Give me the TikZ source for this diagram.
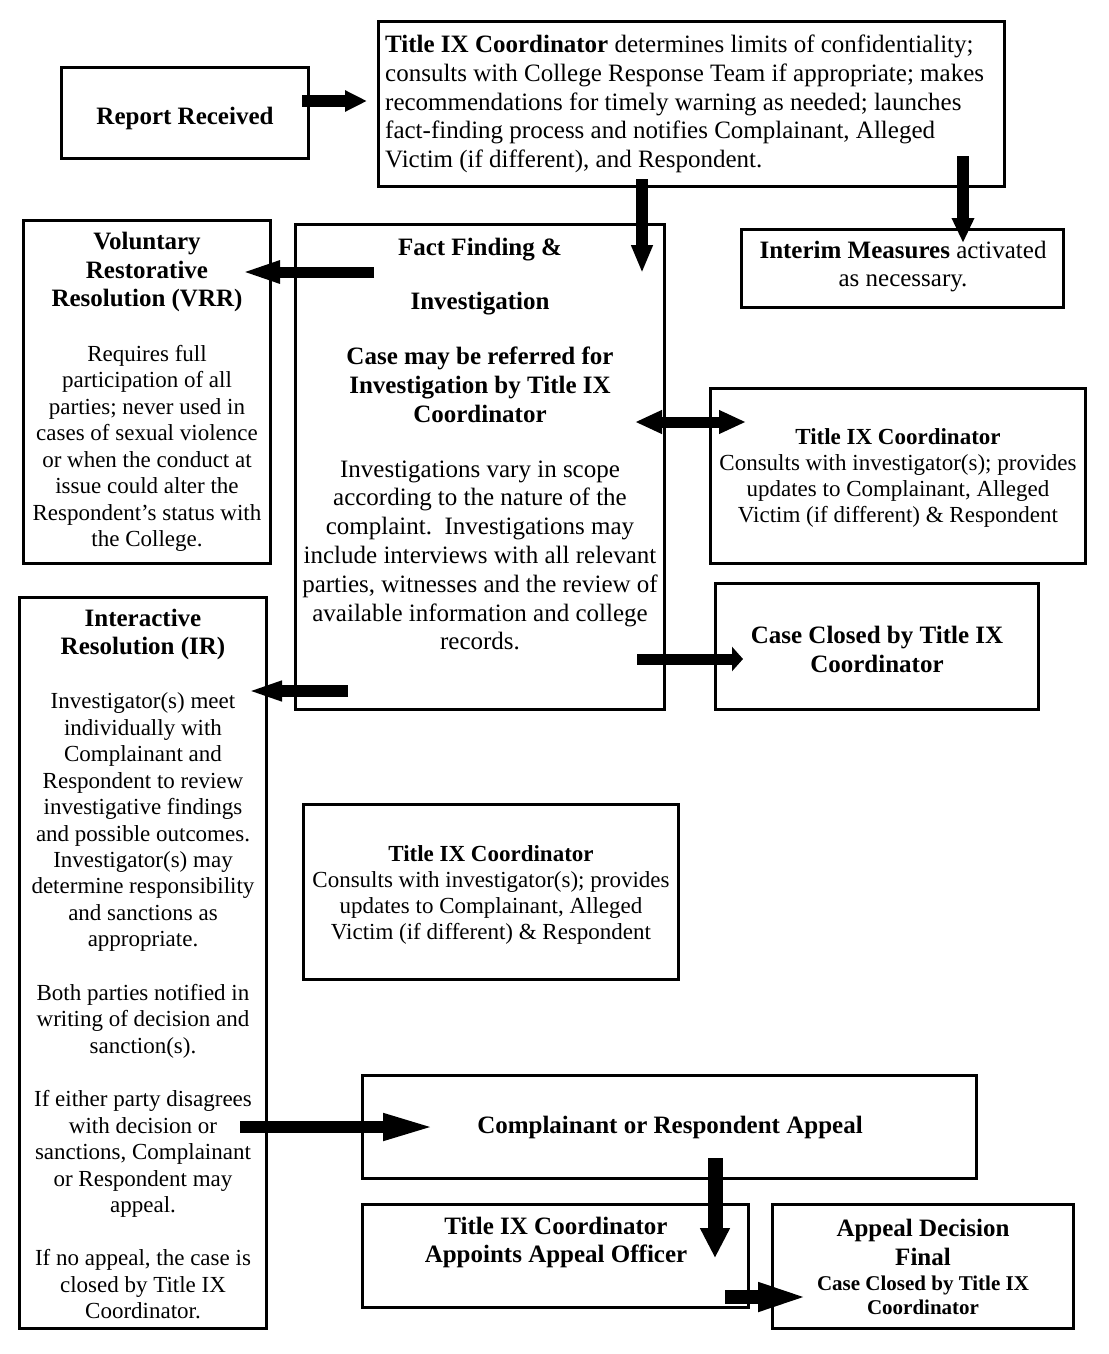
\documentclass[tikz,border=0pt]{standalone}
\usepackage{fontspec}
\setmainfont{Liberation Serif}
\usetikzlibrary{arrows.meta}
\begin{document}
\begin{tikzpicture}[x=1pt,y=-1pt,
  box/.style={draw,line width=3pt,inner sep=0pt,rectangle},
  txt/.style={inner sep=0pt,align=center},
  big/.style={font=\fontsize{25}{28.8}\selectfont},
  bigb/.style={font=\fontsize{25}{28.8}\selectfont\bfseries},
  mid/.style={font=\fontsize{23}{26.45}\selectfont},
  sml/.style={font=\fontsize{23}{26}\selectfont},
  blk/.style={line width=#1},
]
\useasboundingbox (0,0) rectangle (1108,1354);
% boxes
\node[box,minimum width=247pt,minimum height=91pt] (rep) at (185,113) {};
\node[box,minimum width=626pt,minimum height=165pt] (top) at (691.5,104) {};
\node[box,minimum width=369pt,minimum height=485pt] (fact) at (480,467) {};
\node[box,minimum width=322pt,minimum height=78pt] (inter) at (902.5,268.5) {};
\node[box,minimum width=247pt,minimum height=343pt] (vrr) at (147,392) {};
\node[box,minimum width=375pt,minimum height=175pt] (tcr) at (898,476) {};
\node[box,minimum width=323pt,minimum height=126pt] (closed) at (877,646.5) {};
\node[box,minimum width=247pt,minimum height=731pt] (ir) at (143,963) {};
\node[box,minimum width=375pt,minimum height=175pt] (tcm) at (491,892) {};
\node[box,minimum width=614pt,minimum height=103pt] (appeal) at (669.5,1127) {};
\node[box,minimum width=386pt,minimum height=103pt] (appoint) at (555.5,1256) {};
\node[box,minimum width=301pt,minimum height=124pt] (final) at (923,1266.5) {};
% texts
\node[txt,bigb] (reptxt) at (185,118) {Report Received};
\node[txt,big,align=left,anchor=west] (toptxt) at (385,104) {\textbf{Title IX Coordinator} determines limits of confidentiality;\\
consults with College Response Team if appropriate; makes\\
recommendations for timely warning as needed; launches\\
fact-finding process and notifies Complainant, Alleged\\
Victim (if different), and Respondent.};
\node[txt,big] (facttxt) at (480,444) {\textbf{Fact Finding \&}\\[26pt]
\textbf{Investigation}\\[26pt]
\textbf{Case may be referred for}\\
\textbf{Investigation by Title IX}\\
\textbf{Coordinator}\\[26pt]
Investigations vary in scope\\
according to the nature of the\\
complaint.\ \ Investigations may\\
include interviews with all relevant\\
parties, witnesses and the review of\\
available information and college\\
records.};
\node[txt,big] (intertxt) at (903,266.5) {\textbf{Interim Measures} activated\\as necessary.};
\node[txt,bigb] (vrrhead) at (147,272) {Voluntary\\Restorative\\Resolution (VRR)};
\node[txt,mid] (vrrbody) at (147,448.5) {Requires full\\
participation of all\\
parties; never used in\\
cases of sexual violence\\
or when the conduct at\\
issue could alter the\\
Respondent’s status with\\
the College.};
\node[txt,sml] (tcrtxt) at (898,478) {\textbf{Title IX Coordinator}\\
Consults with investigator(s); provides\\
updates to Complainant, Alleged\\
Victim (if different) \& Respondent};
\node[txt,bigb] (closedtxt) at (877,649.5) {Case Closed by Title IX\\Coordinator};
\node[txt,bigb] (irhead) at (143,634.5) {Interactive\\Resolution (IR)};
\node[txt,mid] (irbody) at (143,1006) {Investigator(s) meet\\
individually with\\
Complainant and\\
Respondent to review\\
investigative findings\\
and possible outcomes.\\
Investigator(s) may\\
determine responsibility\\
and sanctions as\\
appropriate.\\[27pt]
Both parties notified in\\
writing of decision and\\
sanction(s).\\[27pt]
If either party disagrees\\
with decision or\\
sanctions, Complainant\\
or Respondent may\\
appeal.\\[27pt]
If no appeal, the case is\\
closed by Title IX\\
Coordinator.};
\node[txt,sml] (tcmtxt) at (491,894.5) {\textbf{Title IX Coordinator}\\
Consults with investigator(s); provides\\
updates to Complainant, Alleged\\
Victim (if different) \& Respondent};
\node[txt,bigb] (appealtxt) at (670,1127) {Complainant or Respondent Appeal};
\node[txt,bigb] (appointtxt) at (556,1242.5) {Title IX Coordinator\\Appoints Appeal Officer};
\node[txt,bigb] (finalhead) at (923,1242.5) {Appeal Decision\\Final};
\node[txt,font=\fontsize{21}{24}\selectfont\bfseries] (finalbody) at (923,1295) {Case Closed by Title IX\\Coordinator};
% arrow end points
\coordinate (a1) at (302,101); \coordinate (a2) at (367,101);
\coordinate (b1) at (642,179); \coordinate (b2) at (642,273);
\coordinate (c1) at (963,156); \coordinate (c2) at (963,243);
\coordinate (d1) at (374,272); \coordinate (d2) at (240,272);
\coordinate (e1) at (635,422); \coordinate (e2) at (746,422);
\coordinate (f1) at (637,659); \coordinate (f2) at (743,659);
\coordinate (g1) at (348,691); \coordinate (g2) at (247,691);
\coordinate (h1) at (240,1127); \coordinate (h2) at (437,1127);
\coordinate (i1) at (715,1158); \coordinate (i2) at (715,1258);
\coordinate (j1) at (725,1297); \coordinate (j2) at (812,1297);
% arrows
\draw[blk=12pt,-{Triangle[length=22pt,width=20pt]}] (a1) -- (a2);
\draw[blk=12pt,-{Triangle[length=28pt,width=20pt]}] (b1) -- (b2);
\draw[blk=12pt,-{Triangle[length=25pt,width=21pt]}] (c1) -- (c2);
\draw[blk=11pt,-{Triangle[length=40pt,width=20pt]}] (d1) -- (d2);
\draw[blk=11pt,{Triangle[length=27pt,width=22pt]}-{Triangle[length=27pt,width=22pt]}] (e1) -- (e2);
\draw[blk=11pt,-{Triangle[length=11pt,width=24pt]}] (f1) -- (f2);
\draw[blk=12pt,-{Triangle[length=35pt,width=18pt]}] (g1) -- (g2);
\draw[blk=12pt,-{Triangle[length=54pt,width=24pt]}] (h1) -- (h2);
\draw[blk=15pt,-{Triangle[length=30pt,width=28pt]}] (i1) -- (i2);
\draw[blk=14pt,-{Triangle[length=54pt,width=25pt]}] (j1) -- (j2);
\end{tikzpicture}
\end{document}
